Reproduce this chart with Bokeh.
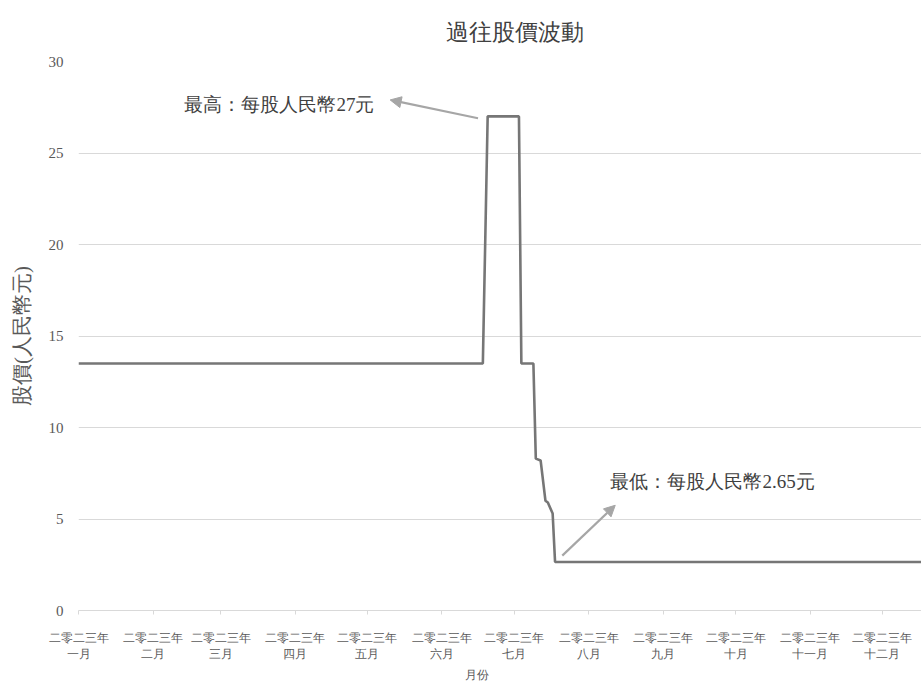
from datetime import datetime
from bokeh.plotting import figure
from bokeh.models import Range1d, FixedTicker, Label, Arrow, NormalHead, Title
from bokeh.embed import file_html
from bokeh.resources import INLINE

# ---- data ----
dates = ["2023-01-01", "2023-06-18", "2023-06-20", "2023-07-03", "2023-07-04",
         "2023-07-09", "2023-07-10", "2023-07-12", "2023-07-14", "2023-07-15",
         "2023-07-17", "2023-07-18", "2023-12-31"]
prices = [13.5, 13.5, 27.0, 27.0, 13.5, 13.5, 8.3, 8.2, 6.0, 5.9, 5.3, 2.65, 2.65]

month_starts = ["2023-01-01", "2023-02-01", "2023-03-01", "2023-04-01", "2023-05-01",
                "2023-06-01", "2023-07-01", "2023-08-01", "2023-09-01", "2023-10-01",
                "2023-11-01", "2023-12-01"]
month_labels = ["一月", "二月", "三月", "四月", "五月", "六月",
                "七月", "八月", "九月", "十月", "十一月", "十二月"]
year_label = "二零二三年"
y_ticks = [0, 5, 10, 15, 20, 25, 30]

title_text = "過往股價波動"
y_title = "股價(人民幣元)"
x_title = "月份"
high_text = "最高：每股人民幣27元"
low_text = "最低：每股人民幣2.65元"


def d(s):
    return datetime.strptime(s, "%Y-%m-%d")


def ms(s):
    return d(s).timestamp() * 1000.0


FONT = "Liberation Serif"
GREY = "#595959"

p = figure(width=921, height=684, output_backend="svg", toolbar_location=None,
           x_axis_type="datetime",
           x_range=Range1d(d("2023-01-01"), datetime(2023, 12, 17, 6)),
           y_range=Range1d(0, 30))
p.min_border_left = 78
p.min_border_right = 0
p.min_border_top = 61
p.min_border_bottom = 74
p.outline_line_color = None
p.background_fill_color = "white"
p.border_fill_color = "white"

p.title.text = title_text
p.title.text_font = FONT
p.title.text_font_size = "23px"
p.title.text_font_style = "normal"
p.title.text_color = "#404040"
p.title.align = "left"
p.title.offset = 367
p.title.standoff = 33

# line
p.line([d(s) for s in dates], prices, line_color="#767676", line_width=2.6)

# axes
xa = p.xaxis[0]
xa.ticker = FixedTicker(ticks=[ms(s) for s in month_starts])
xa.major_label_overrides = {ms(s): year_label + "\n" + m for s, m in zip(month_starts, month_labels)}
xa.major_label_text_font = FONT
xa.major_label_text_font_size = "12px"
xa.major_label_text_color = GREY
xa.major_label_standoff = 16
xa.axis_line_color = "#d9d9d9"
xa.major_tick_line_color = "#d9d9d9"
xa.major_tick_in = 0
xa.major_tick_out = 4
xa.minor_tick_line_color = None

ya = p.yaxis[0]
ya.ticker = FixedTicker(ticks=y_ticks)
ya.major_label_text_font = FONT
ya.major_label_text_font_size = "15px"
ya.major_label_text_color = GREY
ya.major_label_standoff = 15
ya.major_tick_out = 0
ya.major_tick_in = 0
ya.axis_line_color = None
ya.major_tick_line_color = None
ya.minor_tick_line_color = None
ya.axis_label = y_title
ya.axis_label_text_font = FONT
ya.axis_label_text_font_size = "21px"
ya.axis_label_text_font_style = "normal"
ya.axis_label_text_color = GREY
ya.axis_label_standoff = 12

p.xgrid.grid_line_color = None
p.ygrid.grid_line_color = "#d9d9d9"
p.ygrid.ticker = FixedTicker(ticks=y_ticks)

# x axis title (below, shifted like the reference)
p.add_layout(Title(text=x_title, text_font=FONT, text_font_size="12px",
                   text_font_style="normal", text_color=GREY, align="left",
                   offset=386, standoff=2), "below")

# annotations
p.add_layout(Arrow(end=NormalHead(size=11, fill_color="#a6a6a6", line_color="#a6a6a6"),
                   x_start=ms("2023-06-16"), y_start=26.9,
                   x_end=datetime(2023, 5, 10, 12).timestamp() * 1000, y_end=27.9,
                   line_color="#a6a6a6", line_width=2.2))
p.add_layout(Label(x=ms("2023-02-14"), y=27.65, text=high_text, text_font=FONT,
                   text_font_size="19px", text_color="#404040", text_align="left",
                   text_baseline="middle"))

p.add_layout(Arrow(end=NormalHead(size=11, fill_color="#a6a6a6", line_color="#a6a6a6"),
                   x_start=ms("2023-07-21"), y_start=3.0,
                   x_end=ms("2023-08-12"), y_end=5.75,
                   line_color="#a6a6a6", line_width=2.2))
p.add_layout(Label(x=ms("2023-08-10"), y=7.05, text=low_text, text_font=FONT,
                   text_font_size="19px", text_color="#404040", text_align="left",
                   text_baseline="middle"))

open("out.html", "w").write(file_html(p, INLINE))
